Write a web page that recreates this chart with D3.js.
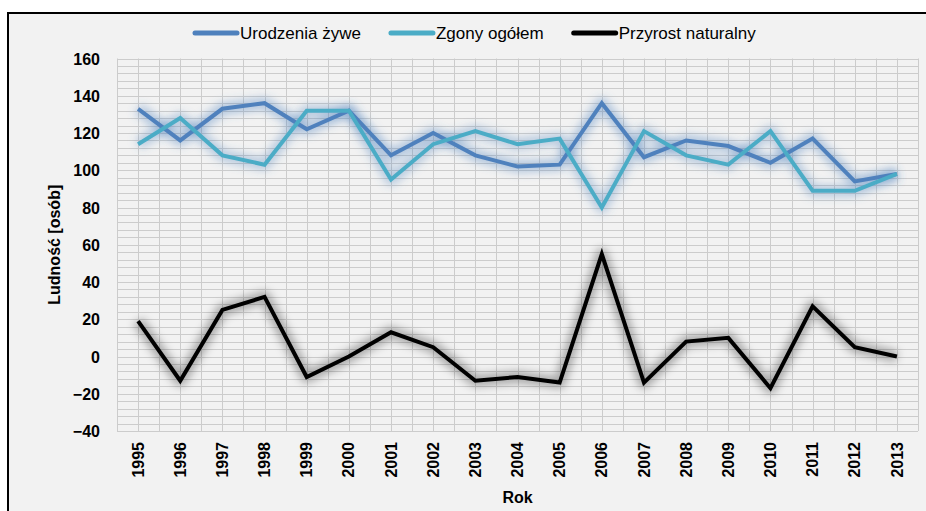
<!DOCTYPE html>
<html lang="pl">
  <head>
    <meta charset="UTF-8" />
    <title>Ludność – urodzenia, zgony, przyrost</title>
    <script src="https://d3js.org/d3.v7.min.js"></script>
    <style>
      body {
        margin: 0;
        background: #ffffff;
      }
      .tick-label {
        font: bold 16px "Liberation Sans", Arial, sans-serif;
        fill: #000;
      }
      .axis-title {
        font: bold 16px "Liberation Sans", Arial, sans-serif;
        fill: #000;
      }
      .legend-text {
        font: 17px "Liberation Sans", Arial, sans-serif;
        fill: #000;
      }
    </style>
  </head>
  <body>
    <svg id="chart" width="926" height="511"></svg>
    <script>
      // data
      const years = ["1995", "1996", "1997", "1998", "1999", "2000", "2001", "2002", "2003", "2004",
                     "2005", "2006", "2007", "2008", "2009", "2010", "2011", "2012", "2013"];
      const births = [133, 116, 133, 136, 122, 132, 108, 120, 108, 102, 103, 136, 107, 116, 113, 104, 117, 94, 98];
      const deaths = [114, 128, 108, 103, 132, 132, 95, 114, 121, 114, 117, 80, 121, 108, 103, 121, 89, 89, 98];
      const increase = [19, -13, 25, 32, -11, 0, 13, 5, -13, -11, -14, 55, -14, 8, 10, -17, 27, 5, 0];
      const yTicks = [-40, -20, 0, 20, 40, 60, 80, 100, 120, 140, 160];

      const series = [
        { name: "Urodzenia żywe", values: births, color: "#4f81bd", glow: "#4f81bd", glowOpacity: 0.4 },
        { name: "Zgony ogółem", values: deaths, color: "#4bacc6", glow: "#4f81bd", glowOpacity: 0.35 },
        { name: "Przyrost naturalny", values: increase, color: "#000000", glow: "#000000", glowOpacity: 0.3 },
      ];

      const width = 926;
      const height = 511;
      const plot = { left: 117, right: 918, top: 58.5, bottom: 431 };

      const svg = d3.select("#chart");

      // chart frame
      svg.append("rect")
        .attr("x", 8).attr("y", 13)
        .attr("width", width).attr("height", height)
        .attr("fill", "#f2f2f2")
        .attr("stroke", "#000").attr("stroke-width", 2);

      const x = d3.scaleBand().domain(years).range([plot.left, plot.right]);
      const y = d3.scaleLinear().domain([-40, 160]).range([plot.bottom, plot.top]);
      const cx = (d) => x(d) + x.bandwidth() / 2;

      // grid: horizontal every 4, vertical at band edges and centers
      const grid = svg.append("g").attr("stroke", "#cccccc").attr("stroke-width", 1);
      grid.selectAll("line.h")
        .data(d3.range(-40, 161, 4))
        .join("line")
        .attr("class", "h")
        .attr("x1", plot.left).attr("x2", plot.right)
        .attr("y1", (d) => Math.round(y(d)) + 0.5).attr("y2", (d) => Math.round(y(d)) + 0.5);
      const vLines = [];
      years.forEach((yr) => {
        vLines.push(x(yr));
        vLines.push(cx(yr));
      });
      vLines.push(plot.right);
      grid.selectAll("line.v")
        .data(vLines)
        .join("line")
        .attr("class", "v")
        .attr("y1", plot.top).attr("y2", plot.bottom)
        .attr("x1", (d) => Math.round(d) + 0.5).attr("x2", (d) => Math.round(d) + 0.5);

      // y axis labels
      const yAxis = svg.append("g")
        .attr("transform", `translate(${plot.left - 9},0)`)
        .call(d3.axisLeft(y).tickValues(yTicks).tickSize(0).tickPadding(8));
      yAxis.select(".domain").remove();
      yAxis.selectAll("text").attr("class", "tick-label").attr("dy", "0.35em");

      // x axis labels (rotated)
      const xAxis = svg.append("g")
        .attr("transform", `translate(0,${plot.bottom})`)
        .call(d3.axisBottom(x).tickSize(0).tickPadding(0));
      xAxis.select(".domain").remove();
      xAxis.selectAll("text")
        .attr("class", "tick-label")
        .attr("text-anchor", "end")
        .attr("transform", "rotate(-90)")
        .attr("x", -11)
        .attr("y", 0)
        .attr("dy", "0.35em");

      // axis titles
      svg.append("text")
        .attr("class", "axis-title")
        .attr("transform", `translate(60,${(plot.top + plot.bottom) / 2}) rotate(-90)`)
        .attr("text-anchor", "middle")
        .text("Ludność [osób]");
      svg.append("text")
        .attr("class", "axis-title")
        .attr("x", (plot.left + plot.right) / 2)
        .attr("y", 503)
        .attr("text-anchor", "middle")
        .text("Rok");

      // glow filter
      const defs = svg.append("defs");
      defs.append("filter")
        .attr("id", "blur")
        .attr("x", "-10%").attr("y", "-50%")
        .attr("width", "120%").attr("height", "200%")
        .append("feGaussianBlur")
        .attr("stdDeviation", 4.5);

      const line = d3.line()
        .x((d, i) => cx(years[i]))
        .y((d) => y(d));

      // glows first, then lines
      series.forEach((s) => {
        svg.append("path")
          .datum(s.values)
          .attr("d", line)
          .attr("fill", "none")
          .attr("stroke", s.glow)
          .attr("stroke-opacity", s.glowOpacity)
          .attr("stroke-width", 12)
          .attr("stroke-linejoin", "round")
          .attr("filter", "url(#blur)");
      });
      series.forEach((s) => {
        svg.append("path")
          .datum(s.values)
          .attr("d", line)
          .attr("fill", "none")
          .attr("stroke", s.color)
          .attr("stroke-width", 4)
          .attr("stroke-linejoin", "miter");
      });

      // legend
      const legend = svg.append("g").attr("transform", "translate(195,33)");
      let lx = 0;
      series.forEach((s) => {
        const g = legend.append("g").attr("transform", `translate(${lx},0)`);
        g.append("line")
          .attr("x1", 0).attr("x2", 42)
          .attr("y1", 0).attr("y2", 0)
          .attr("stroke", s.color)
          .attr("stroke-width", 5)
          .attr("stroke-linecap", "round");
        const t = g.append("text")
          .attr("class", "legend-text")
          .attr("x", 45)
          .attr("dy", "0.35em")
          .text(s.name);
        lx += 45 + t.node().getComputedTextLength() + 30;
      });
    </script>
  </body>
</html>
